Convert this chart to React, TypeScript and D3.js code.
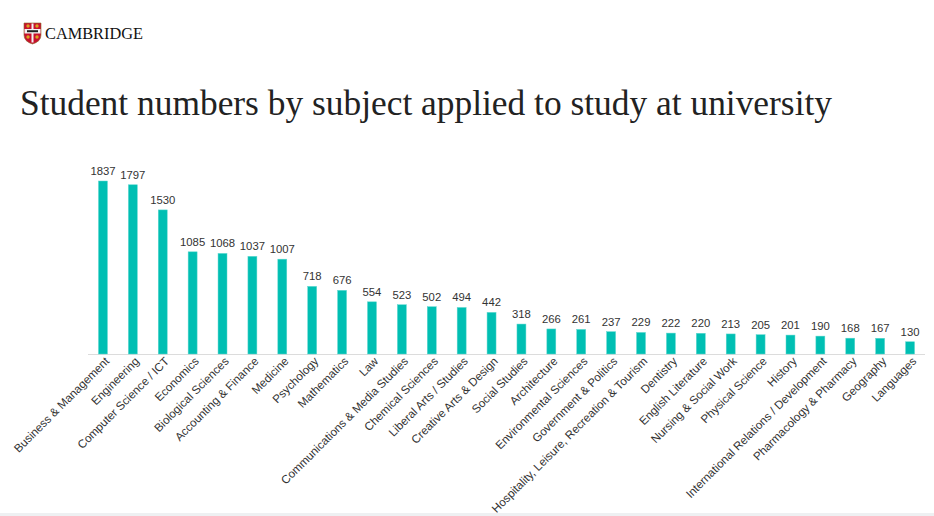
import React from "react";
import * as d3 from "d3";

const subjects = [
  "Business & Management", "Engineering", "Computer Science / ICT", "Economics",
  "Biological Sciences", "Accounting & Finance", "Medicine", "Psychology",
  "Mathematics", "Law", "Communications & Media Studies", "Chemical Sciences",
  "Liberal Arts / Studies", "Creative Arts & Design", "Social Studies", "Architecture",
  "Environmental Sciences", "Government & Politics", "Hospitality, Leisure, Recreation & Tourism",
  "Dentistry", "English Literature", "Nursing & Social Work", "Physical Science",
  "History", "International Relations / Development", "Pharmacology & Pharmacy",
  "Geography", "Languages",
];
const students = [
  1837, 1797, 1530, 1085, 1068, 1037, 1007, 718, 676, 554, 523, 502, 494, 442,
  318, 266, 261, 237, 229, 222, 220, 213, 205, 201, 190, 168, 167, 130,
];
const title = "Student numbers by subject applied to study at university";

export default function App() {
  const W = 934, H = 516;
  const x = d3.scaleBand<string>().domain(subjects).range([88, 925]).paddingInner(0.7).paddingOuter(0.35);
  const y = d3.scaleLinear().domain([0, 1837]).range([354, 181]);
  const bw = x.bandwidth();
  return (
    <svg width={W} height={H} style={{ position: "fixed", left: 0, top: 0, background: "#fff" }}>
      <rect x={0} y={0} width={W} height={H} fill="#fff" />
      {/* logo */}
      <g transform="translate(24,23)">
        <path d="M0,0 H17 V12 Q17,18.5 8.5,21 Q0,18.5 0,12 Z" fill="#c8102e" stroke="#8a6d2b" strokeWidth={0.6} />
        <rect x={0.5} y={6} width={16} height={4.5} fill="#f2f2f2" />
        <rect x={7.5} y={0.5} width={2} height={19} fill="#f2f2f2" />
        <circle cx={4} cy={3} r={1.7} fill="#d9a520" />
        <circle cx={13} cy={3} r={1.7} fill="#d9a520" />
        <circle cx={4} cy={14} r={1.7} fill="#d9a520" />
        <circle cx={13} cy={14} r={1.7} fill="#d9a520" />
        <rect x={3} y={7.2} width={11} height={2} fill="#222" />
      </g>
      <text x={45} y={39} fontFamily="Liberation Serif, serif" fontSize={16.5} fill="#111" textLength={98} lengthAdjust="spacingAndGlyphs">CAMBRIDGE</text>
      <text x={20} y={115} fontFamily="Liberation Serif, serif" fontSize={36} fill="#222" textLength={812} lengthAdjust="spacingAndGlyphs">{title}</text>
      <line x1={88} x2={925} y1={354.5} y2={354.5} stroke="#dcdcdc" strokeWidth={1} />
      {subjects.map((s, i) => {
        const cx = (x(s) as number) + bw / 2;
        return (
          <g key={s}>
            <rect x={x(s)} y={y(students[i])} width={bw} height={354 - y(students[i])} fill="#00bfb3" stroke="#5fd8cf" strokeWidth={0.5} />
            <text x={cx} y={y(students[i]) - 6} textAnchor="middle" fontFamily="Liberation Sans, Arial, sans-serif" fontSize={11.3} fill="#333">{students[i]}</text>
            <text transform={`translate(${cx + 7},${362}) rotate(-45)`} textAnchor="end" fontFamily="Liberation Sans, Arial, sans-serif" fontSize={11.6} fill="#333">{s}</text>
          </g>
        );
      })}
      <rect x={0} y={513} width={W} height={3} fill="#eef0f2" />
    </svg>
  );
}
